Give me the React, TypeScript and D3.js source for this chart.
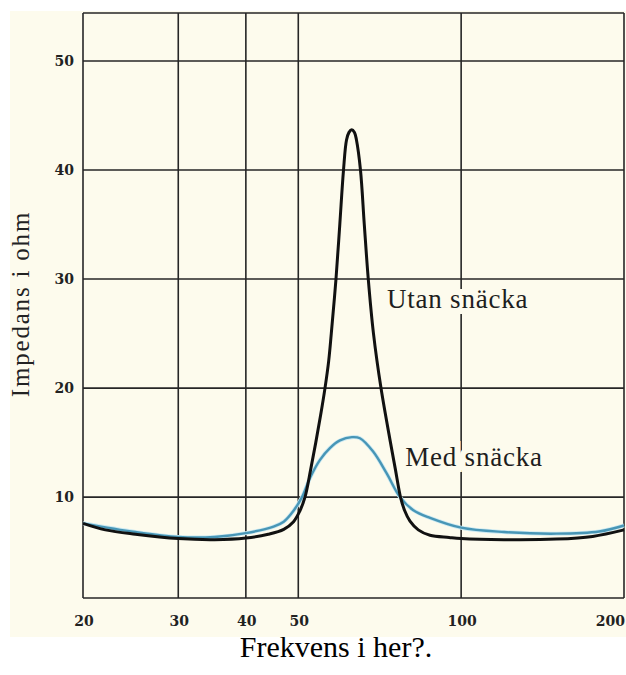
import { useRef, useEffect } from 'react';
import * as d3 from 'd3';

// frequency ticks (Hz) and impedance ticks (ohm)
const freqTicks = [20, 30, 40, 50, 100, 200];
const impTicks = [10, 20, 30, 40, 50];

// "Utan snäcka" (black curve)
const utanFreq = [20, 22, 25, 30, 35, 40, 44, 47, 49, 50.3, 51.45, 52.69, 53.86, 54.98, 56.02, 56.91, 57.54, 58.7, 59.66, 60.61, 61.39, 62.04, 62.76, 63.51, 64.05, 65.15, 66.22, 67.35, 68.86, 71.1, 74.03, 75.62, 77.25, 78.58, 80.44, 83.33, 87.58, 95, 100, 120, 150, 175, 200];
const utanImp = [7.6, 7.0, 6.6, 6.2, 6.1, 6.25, 6.6, 7.05, 7.75, 8.7, 10, 12.5, 15, 17.5, 20, 22.5, 25, 30, 35, 40, 42.75, 43.45, 43.7, 43.45, 42.75, 40, 35, 30, 25, 20, 15, 12.5, 10, 8.8, 7.8, 7.0, 6.5, 6.3, 6.2, 6.1, 6.15, 6.4, 7.0];

// "Med snäcka" (blue curve)
const medFreq = [20, 25, 30, 35, 40, 45, 47, 49, 50.8, 52.6, 54.8, 57.2, 59.7, 62.8, 65, 68.7, 72.8, 77.1, 81.6, 87.6, 100, 120, 150, 180, 200];
const medImp = [7.6, 6.8, 6.35, 6.35, 6.7, 7.3, 7.75, 8.75, 10, 11.8, 13.4, 14.5, 15.2, 15.5, 15.4, 14.2, 12.2, 10, 8.8, 8.1, 7.2, 6.8, 6.65, 6.85, 7.4];

const labels = [
  { text: 'Utan snäcka', freq: 72.9, imp: 27.3 },
  { text: 'Med snäcka', freq: 78.8, imp: 12.9 },
];

const width = 626;
const height = 675;
const cream = '#fdfbed';
const serif = "'Liberation Serif', 'Times New Roman', serif";

export default function App() {
  const svgRef = useRef<SVGSVGElement>(null);

  useEffect(() => {
    if (!svgRef.current) return;
    const svg = d3.select(svgRef.current);
    svg.selectAll('*').remove();

    const plot = { left: 83, right: 624, top: 13, bottom: 598 };

    const x = d3.scaleLog().domain([20, 200]).range([plot.left, plot.right]);
    const y = d3.scaleLinear().domain([0.75, 54.4]).range([plot.bottom, plot.top]);

    // paper background
    svg.append('rect')
      .attr('x', 10).attr('y', 11)
      .attr('width', width - 10).attr('height', 626)
      .attr('fill', cream);

    const grid = svg.append('g')
      .attr('stroke', '#262626')
      .attr('stroke-width', 1.6);

    grid.selectAll('.vline')
      .data(freqTicks)
      .enter()
      .append('line')
      .attr('x1', d => x(d)).attr('x2', d => x(d))
      .attr('y1', plot.top).attr('y2', plot.bottom);

    grid.selectAll('.hline')
      .data(impTicks)
      .enter()
      .append('line')
      .attr('x1', plot.left).attr('x2', plot.right)
      .attr('y1', d => y(d)).attr('y2', d => y(d));

    // frame top and bottom
    grid.append('line')
      .attr('x1', plot.left).attr('x2', plot.right)
      .attr('y1', plot.top).attr('y2', plot.top);
    grid.append('line')
      .attr('x1', plot.left).attr('x2', plot.right)
      .attr('y1', plot.bottom).attr('y2', plot.bottom);

    // tick labels (last one is pulled inside the page edge)
    svg.append('g')
      .selectAll('text')
      .data(freqTicks)
      .enter()
      .append('text')
      .attr('x', d => (d === 200 ? width - 1 : x(d) + 1))
      .attr('y', 626)
      .attr('text-anchor', d => (d === 200 ? 'end' : 'middle'))
      .attr('font-family', "'DejaVu Serif', serif")
      .attr('font-weight', 'bold')
      .attr('font-size', 14)
      .attr('fill', '#222')
      .text(d => d);

    svg.append('g')
      .selectAll('text')
      .data(impTicks)
      .enter()
      .append('text')
      .attr('x', 74)
      .attr('y', d => y(d) + 5)
      .attr('text-anchor', 'end')
      .attr('font-family', "'DejaVu Serif', serif")
      .attr('font-weight', 'bold')
      .attr('font-size', 14)
      .attr('fill', '#222')
      .text(d => d);

    // labels with paper-coloured halo, drawn before curves so curves stay on top
    labels.forEach(l => {
      svg.append('text')
        .attr('x', x(l.freq))
        .attr('y', y(l.imp))
        .attr('font-family', serif)
        .attr('font-size', 27)
        .attr('letter-spacing', 0.8)
        .attr('fill', '#1e1e1e')
        .attr('stroke', cream)
        .attr('stroke-width', 12)
        .attr('paint-order', 'stroke')
        .text(l.text);
    });

    const line = d3.line<[number, number]>()
      .x(d => x(d[0]))
      .y(d => y(d[1]))
      .curve(d3.curveCatmullRom.alpha(0.5));

    const med = medFreq.map((f, i) => [f, medImp[i]] as [number, number]);
    const utan = utanFreq.map((f, i) => [f, utanImp[i]] as [number, number]);

    svg.append('path')
      .datum(med)
      .attr('fill', 'none')
      .attr('stroke', '#cbe9f2')
      .attr('stroke-width', 4)
      .attr('d', line);
    svg.append('path')
      .datum(med)
      .attr('fill', 'none')
      .attr('stroke', '#4896b6')
      .attr('stroke-width', 2.4)
      .attr('d', line);

    svg.append('path')
      .datum(utan)
      .attr('fill', 'none')
      .attr('stroke', '#111')
      .attr('stroke-width', 3)
      .attr('stroke-linejoin', 'round')
      .attr('d', line);

    // axis titles
    svg.append('text')
      .attr('transform', `translate(29,${304}) rotate(-90)`)
      .attr('text-anchor', 'middle')
      .attr('font-family', serif)
      .attr('font-size', 25)
      .attr('letter-spacing', 1.8)
      .attr('fill', '#222')
      .text('Impedans i ohm');

    svg.append('text')
      .attr('x', 336)
      .attr('y', 657)
      .attr('text-anchor', 'middle')
      .attr('font-family', serif)
      .attr('font-size', 30)
      .attr('fill', '#000')
      .text('Frekvens i her?.');
  }, []);

  return (
    <svg
      ref={svgRef}
      width={width}
      height={height}
      style={{ position: 'absolute', left: 0, top: 0, background: '#fff' }}
    />
  );
}
